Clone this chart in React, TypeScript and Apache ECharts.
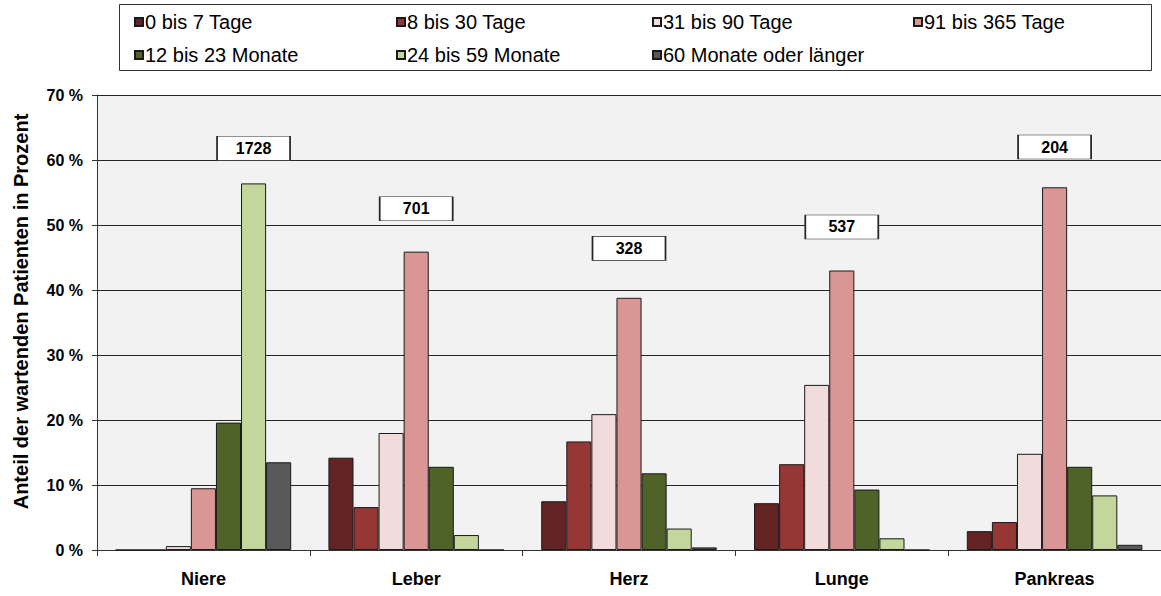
import React, { useEffect, useRef } from 'react';
import * as echarts from 'echarts';

const categories = ['Niere', 'Leber', 'Herz', 'Lunge', 'Pankreas'];
const seriesNames = [
  '0 bis 7 Tage',
  '8 bis 30 Tage',
  '31 bis 90 Tage',
  '91 bis 365 Tage',
  '12 bis 23 Monate',
  '24 bis 59 Monate',
  '60 Monate oder länger',
];
const tage0bis7 = [0, 14.2, 7.5, 7.2, 2.9];
const tage8bis30 = [0, 6.6, 16.7, 13.2, 4.3];
const tage31bis90 = [0.6, 18.0, 20.9, 25.4, 14.8];
const tage91bis365 = [9.5, 45.9, 38.8, 43.0, 55.8];
const monate12bis23 = [19.6, 12.8, 11.8, 9.3, 12.8];
const monate24bis59 = [56.4, 2.3, 3.3, 1.8, 8.4];
const monate60plus = [13.5, 0, 0.4, 0, 0.8];
// number of waiting patients per organ (boxed annotation)
const totals = [1728, 701, 328, 537, 204];
// vertical level (in %) where each annotation box is centred
const totalLabelLevel = [61.8, 52.5, 46.4, 49.7, 62.0];

const yMin = 0;
const yMax = 70;
const yInterval = 10;

const seriesValues = [
  tage0bis7,
  tage8bis30,
  tage31bis90,
  tage91bis365,
  monate12bis23,
  monate24bis59,
  monate60plus,
];
const colors = ['#632423', '#953735', '#F2DCDB', '#D99694', '#4F6228', '#C3D69B', '#595959'];

const FONT = "'Liberation Sans', Arial, Helvetica, sans-serif";

export default function App() {
  const ref = useRef<HTMLDivElement>(null);

  useEffect(() => {
    if (!ref.current) return;
    const chart = echarts.init(ref.current, undefined, { renderer: 'svg' });

    // which series holds the tallest bar of each category -> annotation goes there
    const markData: any[][] = seriesValues.map(() => []);
    categories.forEach((_, ci) => {
      let best = 0;
      seriesValues.forEach((vals, si) => {
        if (vals[ci] > seriesValues[best][ci]) best = si;
      });
      markData[best].push({ coord: [ci, totalLabelLevel[ci]], value: totals[ci] });
    });

    const series = seriesValues.map((vals, si) => ({
      name: seriesNames[si],
      type: 'bar',
      data: vals,
      barGap: '0%',
      barCategoryGap: '17.5%',
      itemStyle: { color: colors[si], borderColor: '#1a1a1a', borderWidth: 1 },
      emphasis: { disabled: true },
      markPoint: markData[si].length
        ? {
            symbol: 'rect',
            symbolSize: [73, 24],
            itemStyle: { color: '#ffffff', borderColor: '#262626', borderWidth: 1 },
            label: {
              show: true,
              position: 'inside',
              formatter: '{c}',
              color: '#000',
              fontFamily: FONT,
              fontWeight: 'bold',
              fontSize: 16,
            },
            data: markData[si],
          }
        : undefined,
    }));

    const legendColumns = [
      { left: 134, items: [0, 4] },
      { left: 396, items: [1, 5] },
      { left: 652, items: [2, 6] },
      { left: 913, items: [3] },
    ];

    chart.setOption({
      animation: false,
      backgroundColor: '#ffffff',
      graphic: [
        {
          type: 'rect',
          left: 119,
          top: 4,
          z: 0,
          shape: { width: 1032, height: 66 },
          style: { fill: '#ffffff', stroke: '#333333', lineWidth: 1 },
        },
      ],
      legend: legendColumns.map((col) => ({
        orient: 'vertical',
        left: col.left,
        top: 12,
        padding: 0,
        itemGap: 13,
        itemWidth: 8,
        itemHeight: 8,
        icon: 'rect',
        selectedMode: false,
        data: col.items.map((i) => seriesNames[i]),
        textStyle: { fontFamily: FONT, fontSize: 20, color: '#000', lineHeight: 20, padding: [0, 0, 0, -3] },
      })),
      grid: {
        left: 97,
        right: 0,
        top: 95,
        bottom: 46,
        show: true,
        backgroundColor: '#F2F2F2',
        borderWidth: 0,
        containLabel: false,
      },
      xAxis: {
        type: 'category',
        data: categories,
        axisLine: { show: true, lineStyle: { color: '#333', width: 1 } },
        axisTick: { show: true, length: 6, lineStyle: { color: '#333' } },
        axisLabel: {
          fontFamily: FONT,
          fontSize: 18,
          fontWeight: 'bold',
          color: '#000',
          margin: 20,
        },
      },
      yAxis: {
        type: 'value',
        min: yMin,
        max: yMax,
        interval: yInterval,
        name: 'Anteil der wartenden Patienten in Prozent',
        nameLocation: 'middle',
        nameGap: 66,
        nameTextStyle: {
          fontFamily: FONT,
          fontSize: 20,
          fontWeight: 'bold',
          color: '#000',
          padding: [0, 0, 0, 22],
        },
        axisLine: { show: true, lineStyle: { color: '#333', width: 1 } },
        axisTick: { show: true, length: 5, lineStyle: { color: '#333' } },
        axisLabel: {
          formatter: '{value} %',
          fontFamily: FONT,
          fontSize: 16,
          fontWeight: 'bold',
          color: '#000',
          margin: 14,
        },
        splitLine: { show: true, lineStyle: { color: '#262626', width: 1 } },
      },
      series,
    });

    return () => chart.dispose();
  }, []);

  return (
    <div
      ref={ref}
      style={{ position: 'absolute', left: 0, top: 0, width: 1161, height: 596 }}
    />
  );
}
